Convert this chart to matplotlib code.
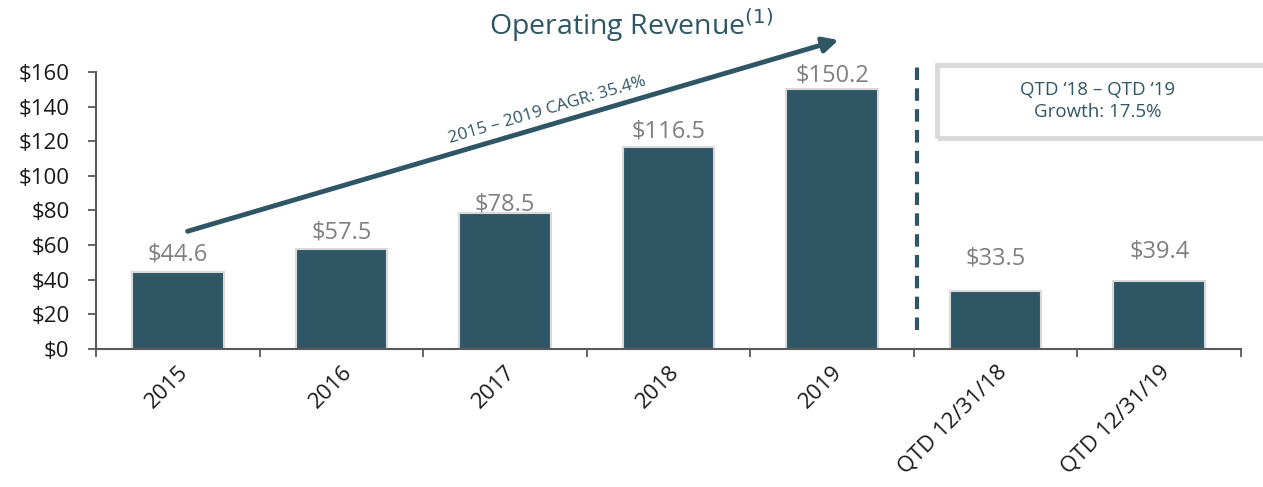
import numpy as np
import matplotlib.pyplot as plt
from matplotlib.patches import Rectangle

plt.rcParams['font.family'] = ['Open Sans', 'DejaVu Sans']

# data
categories = ["2015", "2016", "2017", "2018", "2019", "QTD 12/31/18", "QTD 12/31/19"]
revenue = [44.6, 57.5, 78.5, 116.5, 150.2, 33.5, 39.4]
label_offsets = [10, 10, 5, 9, 8, 19, 17]  # label lift above bar top
cagr_text = "2015 – 2019 CAGR: 35.4%"
growth_text = "QTD \u201818 – QTD \u201819\nGrowth: 17.5%"

teal = "#2F5665"

fig = plt.figure(figsize=(12.63, 4.87), dpi=100)
ax = fig.add_axes([0.076, 0.2834, 0.9066, 0.5688])

x = np.arange(len(categories))
ax.bar(x, revenue, width=0.56, color=teal, edgecolor="#d9d9d9", linewidth=1.5, zorder=2)

for xi, v, off in zip(x, revenue, label_offsets):
    ax.text(xi, v + off, f"${v:.1f}", ha="center", va="center",
            fontsize=17, color="#7f7f7f", zorder=3)

ax.set_xlim(-0.5, len(categories) - 0.5)
ax.set_ylim(0, 160)
ax.set_yticks(np.arange(0, 161, 20))
ax.set_yticklabels([f"${t}" for t in range(0, 161, 20)], fontsize=16, color="#1a1a1a")

# x ticks sit between the categories, labels at the centres
ax.set_xticks(np.arange(-0.5, len(categories), 1.0))
ax.set_xticklabels([])
ax.set_xticks(x, minor=True)
ax.set_xticklabels(categories, minor=True, rotation=45, ha="right",
                   rotation_mode="anchor", fontsize=16, color="#1a1a1a")
ax.tick_params(axis="x", which="minor", length=0, pad=9)
ax.tick_params(axis="x", which="major", length=6, width=1.3, color="#595959", direction="out")
ax.tick_params(axis="y", length=6, width=1.3, color="#595959", pad=13)

for s in ["top", "right"]:
    ax.spines[s].set_visible(False)
ax.spines["left"].set_color("#595959")
ax.spines["bottom"].set_color("#595959")
ax.spines["left"].set_linewidth(1.5)
ax.spines["bottom"].set_linewidth(1.5)

# growth arrow
ax.annotate("", xy=(4.04, 178.5), xytext=(0.06, 68),
            arrowprops=dict(arrowstyle="-|>,head_length=0.9,head_width=0.45",
                            color=teal, lw=3.5, shrinkA=0, shrinkB=0),
            annotation_clip=False, zorder=4)
ax.text(2.26, 138, cagr_text, rotation=16.4, rotation_mode="anchor",
        ha="center", va="center", fontsize=12.5, color=teal)

# divider
ax.plot([4.52, 4.52], [11, 166], ls=(0, (3, 2)), lw=3, color=teal, clip_on=False)

# growth box
box = Rectangle((937 / 1263, 1 - 138 / 487), 340 / 1263, 73 / 487,
                transform=fig.transFigure, fill=False, edgecolor="#d9d9d9", lw=3.5)
fig.patches.append(box)
fig.text(1098 / 1263, 1 - 101 / 487, growth_text, ha="center", va="center",
         fontsize=13.5, color=teal, linespacing=1.3)

# title
fig.text(0.5, 1 - 25 / 487, "Operating Revenue$^{(1)}$", ha="center", va="center",
         fontsize=20.5, color=teal)

fig.savefig("out.png", dpi=100)
